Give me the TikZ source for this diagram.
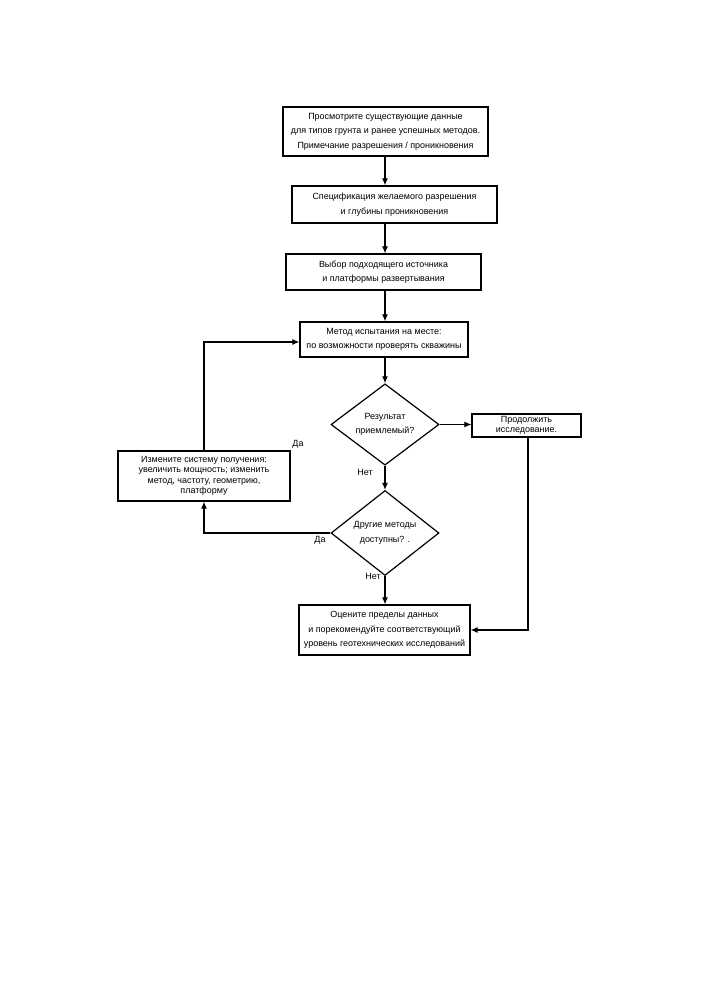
\documentclass[tikz,border=0pt]{standalone}
\usepackage{fontspec}
\setmainfont{Liberation Sans}
\usetikzlibrary{shapes.geometric,arrows.meta}
\tikzset{
  box/.style={draw, line width=1.2bp, rectangle, align=center, inner sep=0pt, font=\fontsize{9}{14.5}\selectfont},
  tightbox/.style={box, font=\fontsize{9}{10.5}\selectfont},
  dec/.style={draw, line width=1.2bp, diamond, align=center, inner sep=0pt, font=\fontsize{9}{14.5}\selectfont},
  conn/.style={line width=1.1bp, -{Latex[length=7bp,width=6bp]}},
  lbl/.style={font=\fontsize{9}{10}\selectfont, inner sep=0pt}
}
\begin{document}
\begin{tikzpicture}[x=1bp,y=-1bp]
\useasboundingbox (0,0) rectangle (707,1000);
\node[box, minimum width=205bp, minimum height=49bp] (b1) at (385.5,131.5)
  {Просмотрите существующие данные\\для типов грунта и ранее успешных методов.\\Примечание разрешения / проникновения};
\node[box, minimum width=205bp, minimum height=37bp] (b2) at (394.5,204.5)
  {Спецификация желаемого разрешения\\и глубины проникновения};
\node[box, minimum width=195bp, minimum height=36bp] (b3) at (383.5,272)
  {Выбор подходящего источника\\и платформы развертывания};
\node[box, minimum width=168bp, minimum height=35bp] (b4) at (384,339.5)
  {Метод испытания на месте:\\по возможности проверять скважины};
\node[dec, minimum width=108bp, minimum height=73bp] (d1) at (385,424.5)
  {Результат\\приемлемый?};
\node[tightbox, minimum width=109bp, minimum height=23bp] (b5) at (526.5,425.5)
  {Продолжить\\исследование.};
\node[dec, minimum width=108bp, minimum height=78bp] (d2) at (385,533)
  {Другие методы\\доступны? .};
\node[tightbox, minimum width=172bp, minimum height=50bp] (b7) at (204,476)
  {Измените систему получения:\\увеличить мощность; изменить\\метод, частоту, геометрию,\\платформу};
\node[box, minimum width=171bp, minimum height=50bp] (b6) at (384.5,630)
  {Оцените пределы данных\\и порекомендуйте соответствующий\\уровень геотехнических исследований};

\draw[conn] (b1.south -| 385,0) -- (b2.north -| 385,0);
\draw[conn] (b2.south -| 385,0) -- (b3.north -| 385,0);
\draw[conn] (b3.south -| 385,0) -- (b4.north -| 385,0);
\draw[conn] (b4.south -| 385,0) -- (d1.north);
\draw[conn] (d1.east) -- (d1.east -| b5.west);
\draw[conn] (d1.south) -- (d2.north);
\draw[conn] (d2.south) -- (b6.north -| d2.south);
\coordinate (c1) at (528,630);
\draw[conn] (b5.south -| c1) -- (c1) -- (b6.east);
\coordinate (c2) at (204,533);
\draw[conn] (d2.west) -- (c2) -- (b7.south -| c2);
\coordinate (c3) at (204,342);
\draw[conn] (b7.north -| c3) -- (c3) -- (b4.west |- c3);

\node[lbl] (n1) at (365,472) {Нет};
\node[lbl] (n2) at (373,576) {Нет};
\node[lbl] (y1) at (298,444) {Да};
\node[lbl] (y2) at (320,540) {Да};
\end{tikzpicture}
\end{document}
